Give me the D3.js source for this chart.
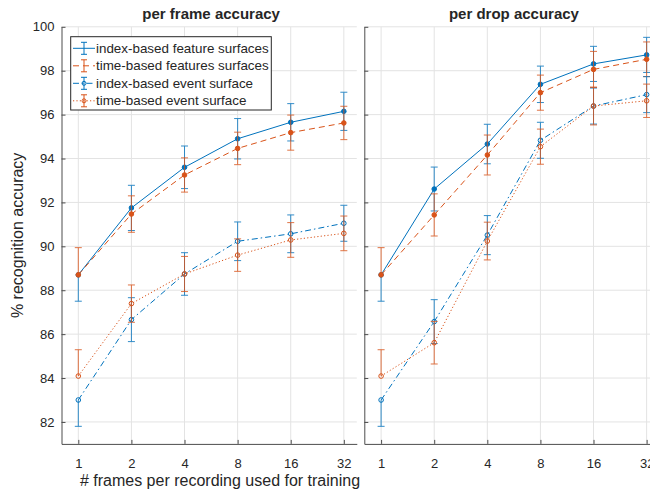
<!DOCTYPE html>
<html>
<head>
<meta charset="utf-8">
<script src="https://d3js.org/d3.v7.min.js"></script>
<style>
  body { margin: 0; background: #fff; }
  text { font-family: "Liberation Sans", Arial, sans-serif; fill: #262626; }
</style>
</head>
<body>
<script>
var width = 650, height = 491;

// data
var frames = [1, 2, 4, 8, 16, 32];
var yTicks = [82, 84, 86, 88, 90, 92, 94, 96, 98, 100];
var seriesNames = ["index-based feature surfaces", "time-based features surfaces",
                   "index-based event surface", "time-based event surface"];

// per frame accuracy (value, lower error, upper error)
var frameIdxFeat = [88.7, 91.75, 93.6, 94.9, 95.65, 96.15];
var frameIdxFeatLo = [1.2, 1.03, 0.97, 0.92, 0.85, 0.87];
var frameIdxFeatHi = [0, 1.03, 0.97, 0.92, 0.85, 0.87];
var frameTimeFeat = [88.7, 91.47, 93.25, 94.46, 95.18, 95.62];
var frameTimeFeatLo = [0, 0.83, 0.78, 0.74, 0.8, 0.76];
var frameTimeFeatHi = [1.24, 0.83, 0.78, 0.74, 0.8, 0.76];
var frameIdxEvent = [83.0, 86.66, 88.74, 90.23, 90.57, 91.05];
var frameIdxEventLo = [1.2, 1.0, 0.97, 0.88, 0.86, 0.82];
var frameIdxEventHi = [0, 1.0, 0.97, 0.88, 0.86, 0.82];
var frameTimeEvent = [84.09, 87.39, 88.74, 89.6, 90.29, 90.59];
var frameTimeEventLo = [0, 0.85, 0.8, 0.74, 0.79, 0.79];
var frameTimeEventHi = [1.2, 0.85, 0.8, 0.74, 0.79, 0.79];

// per drop accuracy
var dropIdxFeat = [88.7, 92.61, 94.66, 97.38, 98.31, 98.72];
var dropIdxFeatLo = [1.2, 1.0, 0.9, 0.83, 0.8, 0.8];
var dropIdxFeatHi = [0, 1.0, 0.9, 0.83, 0.8, 0.8];
var dropTimeFeat = [88.7, 91.43, 94.16, 97.0, 98.06, 98.52];
var dropTimeFeatLo = [0, 0.96, 0.91, 0.8, 0.82, 0.79];
var dropTimeFeatHi = [1.24, 0.96, 0.91, 0.8, 0.82, 0.79];
var dropIdxEvent = [83.0, 86.57, 90.51, 94.83, 96.39, 96.91];
var dropIdxEventLo = [1.2, 1.0, 0.89, 0.82, 0.82, 0.82];
var dropIdxEventHi = [0, 1.0, 0.89, 0.82, 0.82, 0.82];
var dropTimeEvent = [84.09, 85.61, 90.24, 94.54, 96.39, 96.63];
var dropTimeEventLo = [0, 0.97, 0.86, 0.8, 0.86, 0.76];
var dropTimeEventHi = [1.2, 0.97, 0.86, 0.8, 0.86, 0.76];

var blue = "#0072BD", orange = "#D95319";
var styles = [
    { color: blue, dash: null, filled: true },
    { color: orange, dash: "6,4", filled: true },
    { color: blue, dash: "6,3,1.5,3", filled: false },
    { color: orange, dash: "1.2,2.2", filled: false }
];

var panels = [
    { title: "per frame accuracy", left: 61.5, right: 356.8, yLabels: true,
      series: [[frameIdxFeat, frameIdxFeatLo, frameIdxFeatHi],
               [frameTimeFeat, frameTimeFeatLo, frameTimeFeatHi],
               [frameIdxEvent, frameIdxEventLo, frameIdxEventHi],
               [frameTimeEvent, frameTimeEventLo, frameTimeEventHi]] },
    { title: "per drop accuracy", left: 364.3, right: 659.6, yLabels: false,
      series: [[dropIdxFeat, dropIdxFeatLo, dropIdxFeatHi],
               [dropTimeFeat, dropTimeFeatLo, dropTimeFeatHi],
               [dropIdxEvent, dropIdxEventLo, dropIdxEventHi],
               [dropTimeEvent, dropTimeEventLo, dropTimeEventHi]] }
];

var plotTop = 26.8, plotBottom = 443.9;

var svg = d3.select("body").append("svg")
    .attr("width", width)
    .attr("height", height);

var y = d3.scaleLinear().domain([81, 100]).range([plotBottom, plotTop]);

panels.forEach(function(p) {
    var x = d3.scaleLog().base(2).domain([0.803, 37.9]).range([p.left, p.right]);
    var g = svg.append("g");

    // grid
    g.selectAll(".gx").data(frames).enter().append("line")
        .attr("x1", d => x(d)).attr("x2", d => x(d))
        .attr("y1", plotTop).attr("y2", plotBottom)
        .attr("stroke", "#e3e3e3").attr("stroke-width", 1);
    g.selectAll(".gy").data(yTicks).enter().append("line")
        .attr("x1", p.left).attr("x2", p.right)
        .attr("y1", d => y(d)).attr("y2", d => y(d))
        .attr("stroke", "#e3e3e3").attr("stroke-width", 1);

    // axes
    var xAxis = d3.axisBottom(x).tickValues(frames).tickFormat(d3.format("d"))
        .tickSizeInner(-4).tickSizeOuter(0).tickPadding(15);
    var xg = g.append("g").attr("transform", "translate(0," + plotBottom + ")").call(xAxis);
    var yAxis = d3.axisLeft(y).tickValues(yTicks).tickSizeInner(-4).tickSizeOuter(0).tickPadding(7);
    if (!p.yLabels) yAxis.tickFormat("");
    var yg = g.append("g").attr("transform", "translate(" + p.left + ",0)").call(yAxis);
    [xg, yg].forEach(function(a) {
        a.select(".domain").attr("stroke", "#4d4d4d");
        a.selectAll(".tick line").attr("stroke", "#4d4d4d");
        a.selectAll("text").style("font-size", "13px").attr("fill", "#262626")
            .style("font-family", "'Liberation Sans', Arial, sans-serif");
    });

    // title
    svg.append("text")
        .attr("x", (p.left + p.right) / 2 + 2).attr("y", 19)
        .attr("text-anchor", "middle")
        .style("font-size", "15px").style("font-weight", "bold")
        .attr("fill", "#000")
        .text(p.title);

    // series
    p.series.forEach(function(s, i) {
        var st = styles[i];
        var pts = frames.map(function(f, k) { return { f: f, v: s[0][k], lo: s[1][k], hi: s[2][k] }; });
        var line = d3.line().x(d => x(d.f)).y(d => y(d.v));
        var eb = g.append("g").attr("stroke", st.color).attr("stroke-width", 1).attr("opacity", 0.8);
        pts.forEach(function(d) {
            var cx = x(d.f);
            eb.append("line").attr("x1", cx).attr("x2", cx).attr("y1", y(d.v - d.lo)).attr("y2", y(d.v + d.hi));
            if (d.lo > 0)
                eb.append("line").attr("x1", cx - 3.5).attr("x2", cx + 3.5).attr("y1", y(d.v - d.lo)).attr("y2", y(d.v - d.lo));
            if (d.hi > 0)
                eb.append("line").attr("x1", cx - 3.5).attr("x2", cx + 3.5).attr("y1", y(d.v + d.hi)).attr("y2", y(d.v + d.hi));
        });
        g.append("path").datum(pts)
            .attr("d", line)
            .attr("fill", "none")
            .attr("stroke", st.color)
            .attr("stroke-width", 1)
            .attr("stroke-dasharray", st.dash);
        g.selectAll(".m" + i).data(pts).enter().append("circle")
            .attr("cx", d => x(d.f)).attr("cy", d => y(d.v))
            .attr("r", 2.3)
            .attr("fill", st.filled ? st.color : "none")
            .attr("stroke", st.color)
            .attr("stroke-width", 1);
    });
});

// axis labels
svg.append("text")
    .attr("transform", "translate(23," + ((plotTop + plotBottom) / 2) + ") rotate(-90)")
    .attr("text-anchor", "middle")
    .style("font-size", "16px")
    .text("% recognition accuracy");
svg.append("text")
    .attr("x", 220).attr("y", 486)
    .attr("text-anchor", "middle")
    .style("font-size", "16px")
    .text("# frames per recording used for training");

// legend
var lg = svg.append("g");
lg.append("rect")
    .attr("x", 70.7).attr("y", 36.7).attr("width", 200.6).attr("height", 73.3)
    .attr("fill", "#fff").attr("stroke", "#262626").attr("stroke-width", 1);
seriesNames.forEach(function(name, i) {
    var st = styles[i];
    var ly = 48.3 + i * 17.5;
    var row = lg.append("g");
    row.append("line").attr("x1", 73).attr("x2", 95).attr("y1", ly).attr("y2", ly)
        .attr("stroke", st.color).attr("stroke-width", 1).attr("stroke-dasharray", st.dash);
    row.append("line").attr("x1", 84).attr("x2", 84).attr("y1", ly - 6).attr("y2", ly + 6)
        .attr("stroke", st.color).attr("stroke-width", 1);
    row.append("line").attr("x1", 81).attr("x2", 87).attr("y1", ly - 6).attr("y2", ly - 6)
        .attr("stroke", st.color).attr("stroke-width", 1);
    row.append("line").attr("x1", 81).attr("x2", 87).attr("y1", ly + 6).attr("y2", ly + 6)
        .attr("stroke", st.color).attr("stroke-width", 1);
    if (!st.filled) {
        row.append("circle").attr("cx", 84).attr("cy", ly).attr("r", 2)
            .attr("fill", "none").attr("stroke", st.color);
    }
    row.append("text").attr("x", 96).attr("y", ly + 4.5)
        .style("font-size", "13.4px").attr("fill", "#000")
        .text(name);
});
</script>
</body>
</html>
